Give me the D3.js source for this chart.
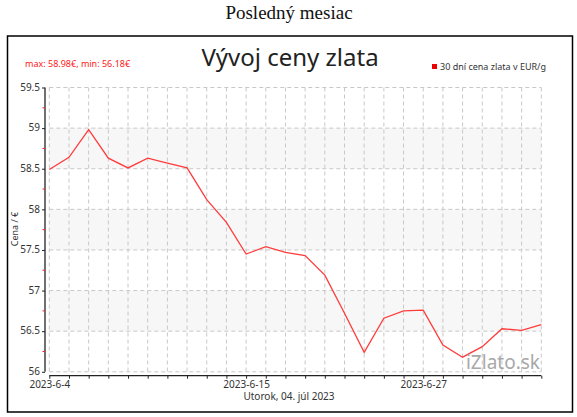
<!DOCTYPE html>
<html>
<head>
<meta charset="utf-8">
<script src="https://cdn.jsdelivr.net/npm/d3@7"></script>
<style>
    body { margin: 0; background: #fff; }
    #chart { width: 577px; height: 417px; }
</style>
</head>
<body>
<div id="chart"></div>
<script>
// data
let dates = ["2023-6-4", "2023-6-5", "2023-6-6", "2023-6-7", "2023-6-8", "2023-6-9", "2023-6-10",
    "2023-6-11", "2023-6-12", "2023-6-13", "2023-6-15", "2023-6-16", "2023-6-17", "2023-6-19",
    "2023-6-20", "2023-6-21", "2023-6-22", "2023-6-23", "2023-6-26", "2023-6-27", "2023-6-28",
    "2023-6-29", "2023-6-30", "2023-7-1", "2023-7-2", "2023-7-3"];
let prices = [58.49, 58.64, 58.98, 58.63, 58.51, 58.63, 58.57, 58.51, 58.12, 57.84, 57.45, 57.54,
    57.47, 57.43, 57.19, 56.72, 56.24, 56.66, 56.75, 56.76, 56.33, 56.18, 56.31, 56.53, 56.51, 56.58];
let shownDates = ["2023-6-4", "2023-6-15", "2023-6-27"];
let yTicks = [56, 56.5, 57, 57.5, 58, 58.5, 59, 59.5];
let yMinorTicks = [56.25, 56.75, 57.25, 57.75, 58.25, 58.75, 59.25];
let bands = [[56.5, 57], [57.5, 58], [58.5, 59]];

let pageTitle = "Posledný mesiac";
let chartTitle = "Vývoj ceny zlata";
let legendLabel = "30 dní cena zlata v EUR/g";
let yLabel = "Cena / €";
let xLabel = "Utorok, 04. júl 2023";
let watermark = "iZlato.sk";

let svg = d3.select("#chart").append("svg")
    .attr("width", 577)
    .attr("height", 417);

let font = "'Noto Sans', sans-serif";

// page heading
svg.append("text")
    .attr("x", 289).attr("y", 19)
    .attr("text-anchor", "middle")
    .style("font-family", "'Liberation Serif', serif")
    .style("font-size", "19px")
    .style("fill", "#111")
    .text(pageTitle);

// frame
svg.append("rect")
    .attr("x", 7.5).attr("y", 36)
    .attr("width", 565).attr("height", 376)
    .style("fill", "#fff")
    .style("stroke", "#000")
    .style("stroke-width", 1.5);

let margin = {left: 49.3, right: 541.3, top: 87.5, bottom: 371.8};

let x = d3.scalePoint()
    .domain(dates)
    .range([margin.left, margin.right]);

let y = d3.scaleLinear()
    .domain([56, 59.5])
    .range([margin.bottom, margin.top]);

// shaded bands
svg.selectAll(".band")
    .data(bands).enter()
    .append("rect")
    .attr("class", "band")
    .attr("x", margin.left)
    .attr("width", margin.right - margin.left)
    .attr("y", d => y(d[1]))
    .attr("height", d => y(d[0]) - y(d[1]))
    .style("fill", "#f7f7f7");

// grid
svg.selectAll(".hgrid")
    .data(yTicks).enter()
    .append("line")
    .attr("x1", margin.left).attr("x2", margin.right)
    .attr("y1", d => y(d)).attr("y2", d => y(d))
    .style("stroke", "#c8c8c8")
    .style("stroke-dasharray", "4,3");

svg.selectAll(".vgrid")
    .data(dates).enter()
    .append("line")
    .attr("x1", d => x(d)).attr("x2", d => x(d))
    .attr("y1", margin.top).attr("y2", margin.bottom)
    .style("stroke", "#c8c8c8")
    .style("stroke-dasharray", "4,3");

// y axis (sits 4px left of plot)
let yAxis = svg.append("g")
    .attr("transform", "translate(45,0)")
    .call(d3.axisLeft(y).tickValues(yTicks).tickSize(3).tickFormat(d3.format("")));
yAxis.select(".domain").attr("d", `M0,${y(59.5)}V${y(56)}`).style("stroke", "#222").style("stroke-width", 1.3);
yAxis.selectAll(".tick line").style("stroke", "#222");
yAxis.selectAll(".tick text")
    .attr("x", -5)
    .attr("dy", "0.28em")
    .style("font-family", font)
    .style("font-size", "10px")
    .style("fill", "#333");

svg.selectAll(".minor")
    .data(yMinorTicks).enter()
    .append("line")
    .attr("x1", 42.5).attr("x2", 45)
    .attr("y1", d => y(d)).attr("y2", d => y(d))
    .style("stroke", "#ff2020");

// x axis (sits 4px below plot)
let xAxis = svg.append("g")
    .attr("transform", "translate(0,375.7)")
    .call(d3.axisBottom(x).tickSize(3).tickFormat(d => shownDates.includes(d) ? d : ""));
xAxis.select(".domain").attr("d", `M${margin.left},0H${margin.right}`).style("stroke", "#222").style("stroke-width", 1.3);
xAxis.selectAll(".tick line").style("stroke", "#222");
xAxis.selectAll(".tick text")
    .attr("y", 5)
    .style("font-family", font)
    .style("font-size", "10px")
    .style("fill", "#333");

// price line
svg.append("path")
    .datum(prices)
    .attr("d", d3.line().x((d, i) => x(dates[i])).y(d => y(d)))
    .style("fill", "none")
    .style("stroke", "#ff3c3c")
    .style("stroke-width", 1.3);

// titles and labels
svg.append("text")
    .attr("x", 290).attr("y", 66)
    .attr("text-anchor", "middle")
    .style("font-family", font)
    .style("font-size", "24px")
    .style("fill", "#222")
    .text(chartTitle);

svg.append("text")
    .attr("x", 25).attr("y", 67)
    .style("font-family", font)
    .style("font-size", "9px")
    .style("fill", "#ff2020")
    .text(`max: ${d3.max(prices)}€, min: ${d3.min(prices)}€`);

svg.append("rect")
    .attr("x", 432).attr("y", 64)
    .attr("width", 5).attr("height", 5)
    .style("fill", "#ee0000");

svg.append("text")
    .attr("x", 440).attr("y", 70)
    .style("font-family", font)
    .style("font-size", "9px")
    .style("fill", "#333")
    .text(legendLabel);

svg.append("text")
    .attr("transform", "translate(18,229) rotate(-90)")
    .attr("text-anchor", "middle")
    .style("font-family", font)
    .style("font-size", "9px")
    .style("fill", "#333")
    .text(yLabel);

svg.append("text")
    .attr("x", 289).attr("y", 400)
    .attr("text-anchor", "middle")
    .style("font-family", font)
    .style("font-size", "10px")
    .style("fill", "#333")
    .text(xLabel);

svg.append("text")
    .attr("x", 540).attr("y", 369)
    .attr("text-anchor", "end")
    .style("font-family", font)
    .style("font-size", "19px")
    .style("fill", "#999")
    .style("opacity", 0.85)
    .text(watermark);
</script>
</body>
</html>
